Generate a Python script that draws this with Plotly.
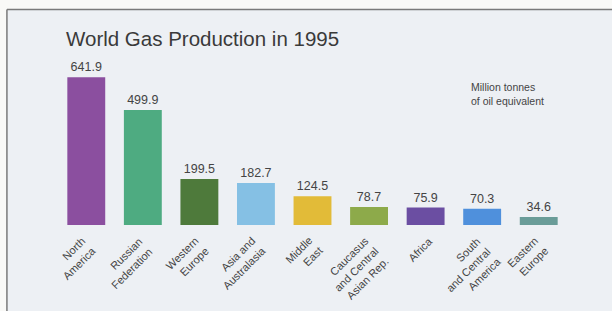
import plotly.graph_objects as go

categories = ["North<br>America", "Russian<br>Federation", "Western<br>Europe", "Asia and<br>Australasia",
              "Middle<br>East", "Caucasus<br>and Central<br>Asian Rep.", "Africa",
              "South<br>and Central<br>America", "Eastern<br>Europe"]
values = [641.9, 499.9, 199.5, 182.7, 124.5, 78.7, 75.9, 70.3, 34.6]
value_labels = ["641.9", "499.9", "199.5", "182.7", "124.5", "78.7", "75.9", "70.3", "34.6"]
colors = ["#8b4f9f", "#4eab81", "#4e7a3b", "#85c0e4", "#e2bb38", "#8daa4a", "#6b4ea2", "#4f90dc", "#6a9c98"]

W, H = 612, 311
L, R = 58.1, 567.3
T, B = 63.6, 225.0
BG = "#edf0f4"
LBL_SIZE = 11
LINE_H = 1.3 * LBL_SIZE

def px(x):
    return (x - L) / (R - L)

def py(y):
    return (B - y) / (B - T)

fig = go.Figure()
fig.add_trace(go.Bar(
    x=list(range(len(values))), y=values,
    marker=dict(color=colors, line=dict(width=0)),
    text=value_labels, textposition="outside",
    textfont=dict(family="Liberation Sans", size=12.5, color="#444"),
    cliponaxis=False, width=0.67,
))

annotations = [
    dict(text="World Gas Production in 1995", xref="paper", yref="paper", x=px(64), y=py(38),
         xanchor="left", yanchor="middle", showarrow=False,
         font=dict(family="Liberation Sans", size=20.5, color="#3a3a3a")),
    dict(text="Million tonnes<br>of oil equivalent", xref="paper", yref="paper", x=px(469), y=py(94),
         xanchor="left", yanchor="middle", align="left", showarrow=False,
         font=dict(family="Liberation Sans", size=10.5, color="#444")),
]
for i, lab in enumerate(categories):
    n = lab.count("<br>") + 1
    h = n * LINE_H + 2
    shift = 0.707 * h + (1 if n > 1 else 9) - 8
    annotations.append(dict(
        text=lab, xref="x", yref="paper", x=i, y=py(232), xanchor="right", yanchor="top",
        xshift=shift, textangle=-45, align="right", showarrow=False,
        font=dict(family="Liberation Sans", size=LBL_SIZE, color="#444"),
    ))

fig.update_layout(
    width=W, height=H,
    margin=dict(l=L, r=W - R, t=T, b=H - B, pad=0),
    paper_bgcolor="#f9f9f7", plot_bgcolor=BG,
    showlegend=False,
    font=dict(family="Liberation Sans", color="#444"),
    xaxis=dict(range=[-0.5, 8.5], showticklabels=False, showgrid=False, zeroline=False,
               showline=False, ticks=""),
    yaxis=dict(range=[0, 700], visible=False),
    shapes=[
        dict(type="rect", xref="paper", yref="paper", x0=px(7), x1=px(613), y0=py(312), y1=py(9),
             fillcolor=BG, line=dict(width=0), layer="below"),
        dict(type="line", xref="paper", yref="paper", x0=px(7), x1=px(613), y0=py(9), y1=py(9),
             line=dict(color="#7a7a7a", width=1.5)),
        dict(type="line", xref="paper", yref="paper", x0=px(7), x1=px(7), y0=py(9), y1=py(312),
             line=dict(color="#7a7a7a", width=1.5)),
    ],
    annotations=annotations,
)

fig.write_html("out.html", config={"displayModeBar": False},
               post_script="document.body.style.margin='0';document.body.style.overflow='hidden';")
